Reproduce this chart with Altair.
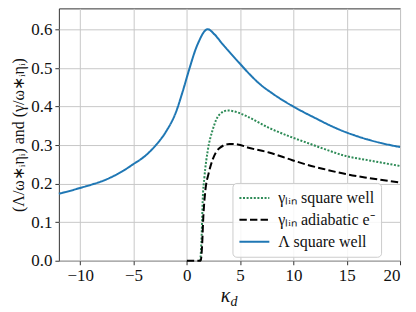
import altair as alt
import pandas as pd

# Λ square well
k_lam = [-12, -11, -10, -9, -8, -7, -6, -5, -4, -3, -2, -1, -0.4, 0.24, 0.87, 1.18, 1.49, 1.96,
         2.58, 3.36, 4.15, 5.0, 5.86, 6.96, 8.04, 10, 11, 12, 13, 14, 16, 18, 20]
v_lam = [0.174, 0.181, 0.189, 0.197, 0.206, 0.218, 0.233, 0.251, 0.270, 0.297, 0.333, 0.387, 0.438,
         0.498, 0.552, 0.572, 0.589, 0.601, 0.588, 0.562, 0.537, 0.511, 0.485, 0.456, 0.434,
         0.400, 0.385, 0.371, 0.357, 0.344, 0.323, 0.307, 0.295]

# γ_lin square well
k_gsq = [1.27, 1.4, 1.49, 1.65, 1.96, 2.43, 3.05, 3.83, 4.77, 5.7, 7.7, 9.6, 11.3, 13, 14.9, 17, 20]
v_gsq = [0.0, 0.071, 0.156, 0.216, 0.285, 0.340, 0.379, 0.390, 0.385, 0.374, 0.345, 0.323, 0.306,
         0.289, 0.272, 0.261, 0.246]

# γ_lin adiabatic e-
k_gad = [0, 1.3, 1.43, 1.55, 1.74, 2.05, 2.43, 3.05, 3.99, 4.77, 5.7, 7.7, 9.9, 11.3, 13, 14.9, 17, 20]
v_gad = [0.0, 0.0, 0.037, 0.114, 0.182, 0.227, 0.263, 0.292, 0.303, 0.302, 0.294, 0.281, 0.261,
         0.249, 0.237, 0.225, 0.215, 0.203]

series = ["γₗᵢₙ square well", "γₗᵢₙ adiabatic e⁻", "Λ square well"]
x_ticks = [-10, -5, 0, 5, 10, 15, 20]
y_ticks = [0.0, 0.1, 0.2, 0.3, 0.4, 0.5, 0.6]

rows = []
for i, (kk, vv) in enumerate([(k_gsq, v_gsq), (k_gad, v_gad), (k_lam, v_lam)]):
    for a, b in zip(kk, vv):
        rows.append({"k": a, "v": b, "s": series[i], "o": i})
df = pd.DataFrame(rows)

FONT = "Liberation Serif"
W, H = 342, 253
TXT = "#111111"

color_scale = alt.Scale(domain=series, range=["#2e8b57", "#000000", "#1f77b4"])
dash_scale = alt.Scale(domain=series, range=[[2, 1.6], [7.4, 3.2], [1, 0]])

legend = alt.Legend(
    title=None, orient="none", legendX=174, legendY=175,
    fillColor="rgba(255,255,255,0.85)", strokeColor="#cccccc", cornerRadius=4,
    padding=6, symbolType="stroke", symbolSize=900, symbolStrokeWidth=2,
    labelFont=FONT, labelFontSize=16, labelColor=TXT, rowPadding=4,
    labelOffset=8, clipHeight=18,
)

axis_common = dict(grid=True, gridColor="#c8c8c8", gridWidth=1, domain=False,
                   tickColor="#333333", tickSize=4, labelFont=FONT, labelFontSize=17,
                   labelColor=TXT, labelPadding=3, titleFont=FONT, titleFontSize=16,
                   titleFontWeight="normal", titleColor=TXT)

lines = alt.Chart(df).mark_line(strokeWidth=2, interpolate="monotone").encode(
    x=alt.X("k:Q", scale=alt.Scale(domain=[-12, 20], nice=False, zero=False),
            axis=alt.Axis(values=x_ticks, title=None, format="d", **axis_common)),
    y=alt.Y("v:Q", scale=alt.Scale(domain=[0, 0.655], nice=False),
            axis=alt.Axis(values=y_ticks, format=".1f", titlePadding=4,
                          title="(Λ/ω∗ᵢηᵢ) and (γ/ω∗ᵢηᵢ)", **axis_common)),
    color=alt.Color("s:N", scale=color_scale, legend=legend, sort=series),
    strokeDash=alt.StrokeDash("s:N", scale=dash_scale, legend=legend, sort=series),
    detail="s:N",
    order="o:Q",
)

kappa = alt.Chart(pd.DataFrame({"t": ["κ"]})).mark_text(
    font=FONT, fontSize=20, fontStyle="italic", align="right", baseline="alphabetic",
    color=TXT).encode(x=alt.value(W / 2 + 1), y=alt.value(H + 41), text="t:N")
sub = alt.Chart(pd.DataFrame({"t": ["d"]})).mark_text(
    font=FONT, fontSize=14, fontStyle="italic", align="left", baseline="alphabetic",
    color=TXT).encode(x=alt.value(W / 2 + 1), y=alt.value(H + 45), text="t:N")

chart = alt.layer(lines, kappa, sub).properties(
    width=W, height=H, autosize="none",
    padding={"left": 51, "top": 0, "right": 8, "bottom": 50},
).configure(font=FONT).configure_view(stroke="#333333", strokeWidth=1)

chart.save("out.html", embed_options={"renderer": "svg", "actions": False})
